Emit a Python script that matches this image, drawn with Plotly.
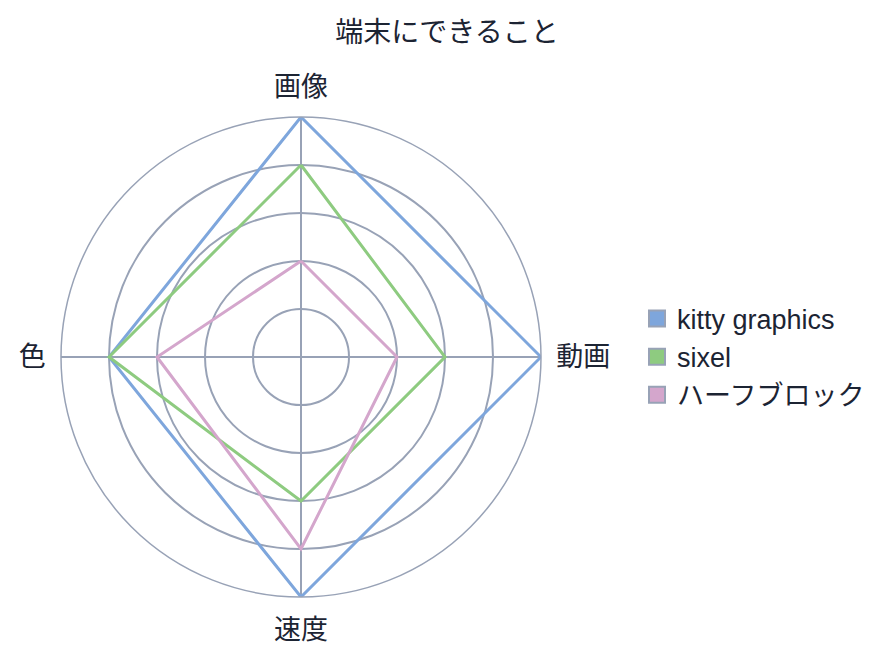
import plotly.graph_objects as go

title = "端末にできること"
categories = ["画像", "動画", "速度", "色"]
series_names = ["kitty graphics", "sixel", "ハーフブロック"]
kitty_values = [5, 5, 5, 4]
sixel_values = [4, 3, 3, 4]
half_block_values = [2, 2, 4, 3]
colors = ["#7ea6dc", "#8ecb80", "#d4a6cc"]
grid_color = "#98a2b6"

fig = go.Figure()
for name, vals, col in zip(series_names, [kitty_values, sixel_values, half_block_values], colors):
    fig.add_trace(go.Scatterpolar(
        r=vals + [vals[0]],
        theta=categories + [categories[0]],
        mode="lines",
        line=dict(color=col, width=3),
        name=name,
        legendgroup=name,
        showlegend=False,
        hoverinfo="skip",
    ))
    fig.add_trace(go.Scatterpolar(
        r=[None] * len(categories),
        theta=categories,
        mode="markers",
        name=name,
        legendgroup=name,
        marker=dict(symbol="square", size=18, color=col, line=dict(color=grid_color, width=2)),
        showlegend=True,
    ))

fig.update_layout(
    width=894,
    height=661,
    paper_bgcolor="white",
    plot_bgcolor="white",
    font=dict(family="Noto Sans CJK JP, Liberation Sans, sans-serif", size=27, color="#1c2433"),
    title=dict(text=title, x=0.491, xref="container", xanchor="center", y=0.963, yanchor="middle",
               font=dict(size=28, color="#1c2433")),
    margin=dict(l=53, r=361, t=109, b=72),
    polar=dict(
        domain=dict(x=[0, 1], y=[0, 1]),
        bgcolor="white",
        angularaxis=dict(
            direction="clockwise",
            rotation=90,
            categoryorder="array",
            categoryarray=categories,
            showline=True,
            linecolor=grid_color,
            linewidth=1.5,
            gridcolor=grid_color,
            gridwidth=1.5,
            ticks="outside",
            ticklen=9,
            tickcolor="rgba(0,0,0,0)",
            tickfont=dict(size=27, color="#1c2433"),
        ),
        radialaxis=dict(
            range=[0, 5],
            dtick=1,
            showticklabels=False,
            ticks="",
            showline=False,
            gridcolor=grid_color,
            gridwidth=1.5,
        ),
    ),
    legend=dict(
        x=1.2, y=0.5, xanchor="left", yanchor="middle",
        font=dict(family="Liberation Sans, Noto Sans CJK JP, sans-serif", size=27, color="#1c2433"),
        tracegroupgap=0,
    ),
    showlegend=True,
)

fig.write_html("out.html")
